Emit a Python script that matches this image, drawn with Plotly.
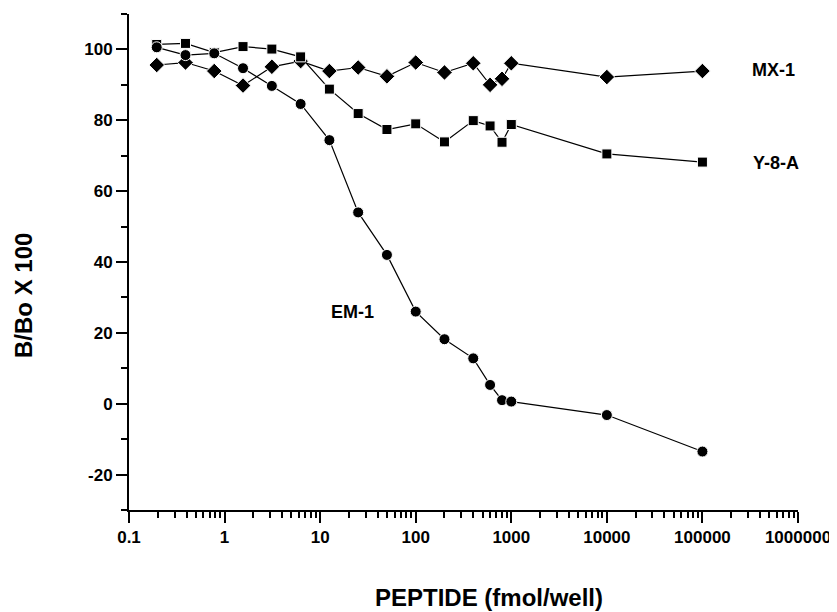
import math
import plotly.graph_objects as go

# peptide amount (fmol/well)
peptide = [0.195, 0.39, 0.78, 1.56, 3.125, 6.25, 12.5, 25, 50, 100,
           200, 400, 600, 800, 1000, 10000, 100000]

mx1 = [95.6, 96.3, 93.9, 89.8, 95.1, 96.7, 93.9, 94.9, 92.4, 96.3,
       93.5, 96.1, 90.0, 91.7, 96.1, 92.2, 93.9]
y8a = [101.4, 101.7, 99.1, 100.8, 100.1, 97.9, 88.8, 81.9, 77.4, 79.0,
       73.9, 79.9, 78.4, 73.8, 78.8, 70.5, 68.2]
em1 = [100.6, 98.4, 98.9, 94.7, 89.7, 84.6, 74.4, 54.0, 42.0, 26.0,
       18.2, 12.8, 5.3, 1.0, 0.6, -3.2, -13.5]

x_ticks = [0.1, 1, 10, 100, 1000, 10000, 100000, 1000000]
x_labels = ["0.1", "1", "10", "100", "1000", "10000", "100000", "1000000"]
y_ticks = [-20, 0, 20, 40, 60, 80, 100]
y_labels = ["-20", "0", "20", "40", "60", "80", "100"]

FONT = "Liberation Sans, Arial, sans-serif"

fig = go.Figure()

series = [
    ("MX-1", mx1, "diamond", 12),
    ("Y-8-A", y8a, "square", 10),
    ("EM-1", em1, "circle", 11),
]
for name, vals, sym, size in series:
    fig.add_trace(go.Scatter(
        x=peptide, y=vals, name=name, mode="lines+markers",
        line=dict(color="black", width=1.2),
        marker=dict(symbol=sym, size=size, color="black",
                    line=dict(color="white", width=1)),
    ))

# curve labels (log axis -> annotation x in log10 units)
labels = [("MX-1", 560000, 94.2), ("Y-8-A", 590000, 68), ("EM-1", 21.6, 26)]
for text, x, y in labels:
    fig.add_annotation(x=math.log10(x), y=y, xref="x", yref="y", text=text,
                       showarrow=False,
                       font=dict(size=18, color="black", weight="bold"))

fig.add_annotation(text="PEPTIDE (fmol/well)", xref="paper", yref="paper",
                   x=(489 - 129) / 669, y=-(597 - 510) / 496,
                   xanchor="center", yanchor="middle", showarrow=False,
                   font=dict(size=24, color="black", weight="bold"))
fig.add_annotation(text="B/Bo X 100", xref="paper", yref="paper",
                   x=-(129 - 23) / 669, y=(510 - 296) / 496, textangle=-90,
                   xanchor="center", yanchor="middle", showarrow=False,
                   font=dict(size=24, color="black", weight="bold"))

fig.update_xaxes(
    type="log", range=[-1, 6], automargin=False,
    tickmode="array", tickvals=x_ticks, ticktext=x_labels,
    ticks="outside", ticklen=11, tickwidth=2, tickcolor="black",
    showline=True, linewidth=2, linecolor="black",
    showgrid=False, zeroline=False,
    minor=dict(tickvals=[m * 10 ** e for e in range(-1, 6) for m in range(2, 10)],
               ticks="outside", ticklen=6, tickwidth=2, tickcolor="black",
               showgrid=False),
    tickfont=dict(size=17, color="black", weight="bold"),
)
fig.update_yaxes(
    range=[-30, 110], automargin=False,
    tickmode="array", tickvals=y_ticks, ticktext=y_labels,
    ticks="outside", ticklen=11, tickwidth=2, tickcolor="black",
    showline=True, linewidth=2, linecolor="black",
    showgrid=False, zeroline=False,
    minor=dict(tickvals=[-30, -10, 10, 30, 50, 70, 90, 110],
               ticks="outside", ticklen=6, tickwidth=2, tickcolor="black",
               showgrid=False),
    tickfont=dict(size=17, color="black", weight="bold"),
)

# the page body adds an 8px offset, so the figure is 8px smaller and the
# left/top margins are reduced by the same amount
fig.update_layout(
    width=829, height=604,
    margin=dict(l=121, r=39, t=6, b=102),
    paper_bgcolor="white", plot_bgcolor="white",
    showlegend=False,
    font=dict(family=FONT, color="black"),
)

fig.write_html("out.html")
